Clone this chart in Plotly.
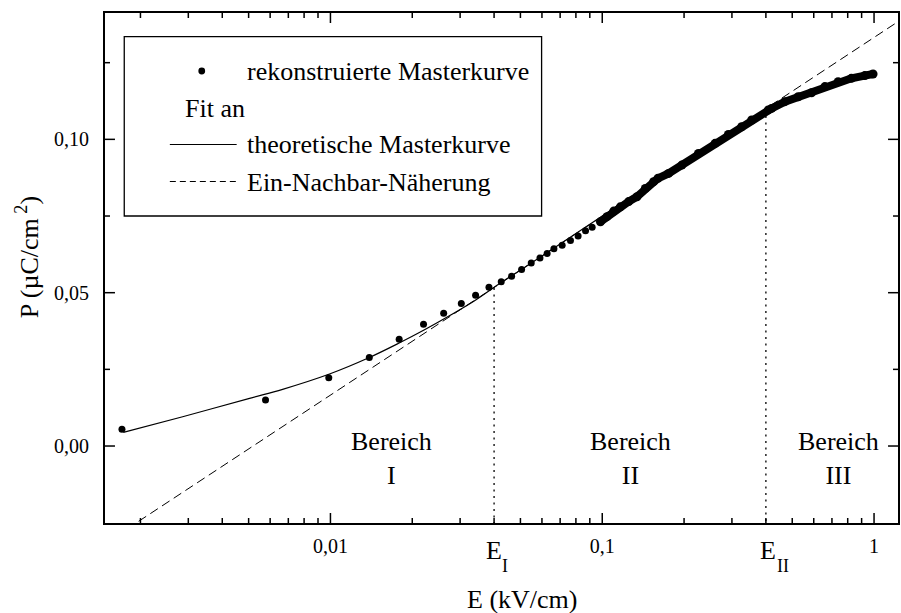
import math
import plotly.graph_objects as go

# ---- data -------------------------------------------------------------
# reconstructed master curve, well separated points (E in kV/cm, P in uC/cm^2)
E_points = [0.00171, 0.00577, 0.00986, 0.0139, 0.0179, 0.0220, 0.0261, 0.0303,
            0.0342, 0.0383, 0.0425, 0.0464, 0.0505, 0.0548, 0.0590, 0.0627,
            0.0664, 0.0712, 0.0764, 0.0815, 0.0868, 0.0918, 0.0985]
P_points = [0.00545, 0.0150, 0.0223, 0.0289, 0.0348, 0.0397, 0.0433, 0.0465,
            0.0492, 0.0518, 0.0536, 0.0554, 0.0576, 0.0597, 0.0613, 0.0628,
            0.0643, 0.0655, 0.0670, 0.0685, 0.0702, 0.0713, 0.0731]

# dense part of the master curve where the points merge into a band
E_band = [0.0985, 0.1041, 0.1102, 0.1166, 0.1251, 0.1342, 0.1440, 0.1545,
          0.1604, 0.1754, 0.1963, 0.2259, 0.2602, 0.2911, 0.3258, 0.3546,
          0.4083, 0.4199, 0.4701, 0.5261, 0.5887, 0.6594, 0.7376, 0.8254,
          0.9245, 0.9915]
P_band = [0.0731, 0.0748, 0.0766, 0.0780, 0.0797, 0.0813, 0.0840, 0.0862,
          0.0873, 0.0889, 0.0916, 0.0954, 0.0987, 0.1016, 0.1041, 0.1063,
          0.1096, 0.1101, 0.1123, 0.1139, 0.1152, 0.1172, 0.1188, 0.1199,
          0.1208, 0.1213]

# fit: theoretical master curve
E_fit = [0.00173, 0.00286, 0.00504, 0.00667, 0.00992, 0.0139, 0.0179,
         0.0221, 0.0273, 0.0338, 0.0417, 0.0636, 0.100, 0.160, 0.226]
P_fit = [0.00447, 0.00955, 0.01555, 0.01849, 0.02348, 0.02886, 0.03359,
         0.03783, 0.04239, 0.04728, 0.05283, 0.0634, 0.0750, 0.0870, 0.0955]

# fit: nearest-neighbour approximation (straight line in log E)
E_nn = [0.0012, 1.5]
P_nn = [-0.0371, 0.1435]

# region boundaries E_I, E_II and the curve value there
E_bounds = [0.04, 0.4]
P_bounds = [0.0515, 0.1076]
bound_labels = ["I", "II"]

regions = ["Bereich<br>I", "Bereich<br>II", "Bereich<br>III"]
region_logE = [-1.776, -0.8966, -0.132]
region_P = -0.0042

x_major = [0.01, 0.1, 1]
x_major_text = ["0,01", "0,1", "1"]
x_minor = [0.002, 0.003, 0.004, 0.005, 0.006, 0.007, 0.008, 0.009,
           0.02, 0.03, 0.04, 0.05, 0.06, 0.07, 0.08, 0.09,
           0.2, 0.3, 0.4, 0.5, 0.6, 0.7, 0.8, 0.9]
y_major = [0.0, 0.05, 0.10]
y_major_text = ["0,00", "0,05", "0,10"]
y_minor = [0.025, 0.075, 0.125]

# ---- layout geometry (pixels) -----------------------------------------
W, H = 901, 613
L, R, T, B = 105, 900, 13, 523
FONT = "Liberation Serif, Times New Roman, serif"
X_RANGE = [-2.8294, 0.0881]
Y_RANGE = [-0.0251, 0.1412]
MAJOR_LEN, MINOR_LEN = 10, 5
DX = (X_RANGE[1] - X_RANGE[0]) / (R - L)   # log10 units per pixel
DY = (Y_RANGE[1] - Y_RANGE[0]) / (B - T)   # P units per pixel


def px(x):
    return (x - L) / (R - L)


def py(y):
    return (B - y) / (B - T)


fig = go.Figure()

# nearest-neighbour line
fig.add_trace(go.Scatter(x=E_nn, y=P_nn, mode="lines",
                         line=dict(color="black", width=1, dash="9px,5px"),
                         showlegend=False, hoverinfo="skip"))
# theoretical fit
fig.add_trace(go.Scatter(x=E_fit, y=P_fit, mode="lines", line_shape="spline",
                         line=dict(color="black", width=1.2),
                         showlegend=False, hoverinfo="skip"))
# boundary markers E_I / E_II
for e, p in zip(E_bounds, P_bounds):
    fig.add_trace(go.Scatter(x=[e, e], y=[p, -0.03], mode="lines",
                             line=dict(color="black", width=1.3, dash="2px,4.5px"),
                             showlegend=False, hoverinfo="skip"))
# master curve
fig.add_trace(go.Scatter(x=E_points, y=P_points, mode="markers",
                         marker=dict(color="black", size=7),
                         showlegend=False))
fig.add_trace(go.Scatter(x=E_band, y=P_band, mode="lines+markers",
                         line=dict(color="black", width=8),
                         marker=dict(color="black", size=9),
                         showlegend=False))

# inward ticks on all four sides of the frame
x_lo_log, x_hi_log = X_RANGE
tx, ty = [], []
for vals, n in ((x_major, MAJOR_LEN), (x_minor, MINOR_LEN)):
    for v in vals:
        tx += [v, v, None, v, v, None]
        ty += [Y_RANGE[0], Y_RANGE[0] + n * DY, None,
               Y_RANGE[1], Y_RANGE[1] - n * DY, None]
for vals, n in ((y_major, MAJOR_LEN), (y_minor, MINOR_LEN)):
    for v in vals:
        tx += [10 ** x_lo_log, 10 ** (x_lo_log + n * DX), None,
               10 ** x_hi_log, 10 ** (x_hi_log - n * DX), None]
        ty += [v, v, None, v, v, None]
fig.add_trace(go.Scatter(x=tx, y=ty, mode="lines", connectgaps=False,
                         line=dict(color="black", width=1.5),
                         showlegend=False, hoverinfo="skip"))

axis_common = dict(showline=True, linecolor="black", linewidth=2,
                   mirror=True, ticks="", showgrid=False, zeroline=False,
                   tickfont=dict(family=FONT, size=20, color="black"))

fig.update_xaxes(type="log", range=X_RANGE, tickvals=x_major,
                 ticktext=x_major_text, ticklabelstandoff=4, **axis_common)
fig.update_yaxes(range=Y_RANGE, tickvals=y_major, ticktext=y_major_text,
                 ticklabelstandoff=10, **axis_common)

ann = []
# region labels
for txt, lx in zip(regions, region_logE):
    ann.append(dict(x=lx, y=region_P, xref="x", yref="y", text=txt,
                    showarrow=False, xanchor="center", yanchor="middle",
                    font=dict(family=FONT, size=26)))
# E_I / E_II labels below the axis
for i, (e, sub) in enumerate(zip(E_bounds, bound_labels)):
    ann.append(dict(x=math.log10(e), y=py(550), xref="x", yref="paper",
                    text="E", showarrow=False, xanchor="center", yanchor="middle",
                    xshift=2 * i, font=dict(family=FONT, size=26)))
    ann.append(dict(x=math.log10(e), y=py(566), xref="x", yref="paper",
                    text=sub, showarrow=False, xanchor="left", yanchor="middle",
                    xshift=6 + 3 * i, font=dict(family=FONT, size=18)))
# axis titles
ann.append(dict(x=px(523), y=py(599), xref="paper", yref="paper",
                text="E (kV/cm)", showarrow=False, xanchor="center",
                yanchor="middle", font=dict(family=FONT, size=26)))
ann.append(dict(x=px(27), y=py(257), xref="paper", yref="paper",
                text="P (µC/cm<sup> 2</sup>)", showarrow=False, textangle=-90,
                xanchor="center", yanchor="middle",
                font=dict(family=FONT, size=26)))

# legend box
shapes = [dict(type="rect", xref="paper", yref="paper",
               x0=px(124.3), x1=px(542.7), y0=py(216), y1=py(36.7),
               line=dict(color="black", width=1.3), fillcolor="white", layer="below")]
shapes.append(dict(type="circle", xref="paper", yref="paper",
                   xsizemode="pixel", ysizemode="pixel",
                   xanchor=px(202), yanchor=py(71),
                   x0=-3.4, x1=3.4, y0=-3.4, y1=3.4,
                   fillcolor="black", line=dict(color="black", width=0)))
shapes.append(dict(type="line", xref="paper", yref="paper",
                   x0=px(170), x1=px(237), y0=py(144.5), y1=py(144.5),
                   line=dict(color="black", width=1.2)))
shapes.append(dict(type="line", xref="paper", yref="paper",
                   x0=px(170), x1=px(237), y0=py(181.5), y1=py(181.5),
                   line=dict(color="black", width=1, dash="6px,4px")))
legend_rows = [("rekonstruierte Masterkurve", 245, 71),
               ("Fit an", 182.7, 108),
               ("theoretische Masterkurve", 245, 145),
               ("Ein-Nachbar-Näherung", 245, 182)]
for txt, lx, ly in legend_rows:
    ann.append(dict(x=px(lx), y=py(ly), xref="paper", yref="paper", text=txt,
                    showarrow=False, xanchor="left", yanchor="middle",
                    font=dict(family=FONT, size=26)))

fig.update_layout(width=W, height=H, plot_bgcolor="white", paper_bgcolor="white",
                  margin=dict(l=L, r=W - R, t=T, b=H - B),
                  font=dict(family=FONT, color="black"),
                  annotations=ann, shapes=shapes, showlegend=False)

fig.write_html("out.html")
